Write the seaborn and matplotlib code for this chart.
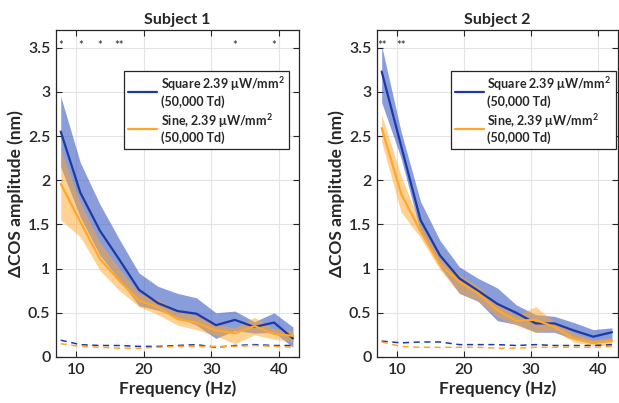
import numpy as np
import pandas as pd
import seaborn as sns
import matplotlib.pyplot as plt

# frequencies (Hz)
freq = [7.7, 10.6, 13.5, 16.4, 19.3, 22.1, 25.0, 27.8, 30.7, 33.5, 36.4, 39.3, 42.1]

# Subject 1
s1_sq = [2.55, 1.86, 1.43, 1.10, 0.76, 0.61, 0.52, 0.49, 0.36, 0.42, 0.34, 0.39, 0.21]
s1_sq_hi = [2.95, 2.20, 1.73, 1.33, 0.95, 0.80, 0.72, 0.67, 0.50, 0.52, 0.40, 0.50, 0.34]
s1_sq_lo = [2.15, 1.58, 1.15, 0.87, 0.58, 0.53, 0.45, 0.36, 0.21, 0.30, 0.27, 0.28, 0.11]
s1_si = [1.96, 1.53, 1.11, 0.86, 0.64, 0.56, 0.43, 0.39, 0.30, 0.27, 0.35, 0.26, 0.24]
s1_si_hi = [2.35, 1.75, 1.30, 1.00, 0.72, 0.65, 0.52, 0.47, 0.37, 0.33, 0.45, 0.32, 0.30]
s1_si_lo = [1.55, 1.36, 0.98, 0.75, 0.57, 0.48, 0.36, 0.31, 0.24, 0.15, 0.25, 0.20, 0.18]
s1_sq_noise = [0.19, 0.14, 0.13, 0.13, 0.12, 0.12, 0.13, 0.14, 0.11, 0.13, 0.14, 0.13, 0.13]
s1_si_noise = [0.15, 0.12, 0.11, 0.10, 0.10, 0.11, 0.12, 0.12, 0.12, 0.12, 0.13, 0.12, 0.11]
s1_stars = [(7.7, '*'), (10.6, '*'), (13.5, '*'), (16.4, '**'), (33.5, '*'), (39.3, '*')]

# Subject 2
s2_sq = [3.23, 2.39, 1.55, 1.15, 0.89, 0.75, 0.60, 0.50, 0.38, 0.38, 0.30, 0.23, 0.28]
s2_sq_hi = [3.52, 2.55, 1.76, 1.32, 1.02, 0.89, 0.78, 0.59, 0.48, 0.46, 0.39, 0.31, 0.33]
s2_sq_lo = [2.88, 2.25, 1.41, 1.02, 0.72, 0.63, 0.41, 0.37, 0.28, 0.28, 0.20, 0.15, 0.20]
s2_si = [2.59, 1.85, 1.42, 1.05, 0.85, 0.72, 0.53, 0.41, 0.42, 0.34, 0.21, 0.16, 0.18]
s2_si_hi = [2.74, 2.05, 1.50, 1.12, 0.93, 0.80, 0.60, 0.47, 0.57, 0.40, 0.27, 0.20, 0.22]
s2_si_lo = [2.43, 1.64, 1.35, 0.99, 0.72, 0.63, 0.45, 0.36, 0.28, 0.30, 0.17, 0.13, 0.13]
s2_sq_noise = [0.18, 0.16, 0.17, 0.17, 0.14, 0.14, 0.14, 0.13, 0.14, 0.13, 0.13, 0.13, 0.14]
s2_si_noise = [0.17, 0.12, 0.11, 0.11, 0.11, 0.11, 0.10, 0.10, 0.11, 0.11, 0.11, 0.11, 0.12]
s2_stars = [(7.7, '**'), (10.6, '**')]

labels = ['Square 2.39 μW/mm$^2$\n(50,000 Td)', 'Sine, 2.39 μW/mm$^2$\n(50,000 Td)']
yticks = [0, 0.5, 1, 1.5, 2, 2.5, 3, 3.5]
yticklabels = ['0', '0.5', '1', '1.5', '2', '2.5', '3', '3.5']

blue = '#1c3aa6'
orange = '#ffa62b'
ink = '#262626'

sns.set_theme(style='white')
plt.rcParams['font.family'] = ['Lato', 'DejaVu Sans']
plt.rcParams['mathtext.fontset'] = 'custom'
plt.rcParams['mathtext.rm'] = 'Lato:bold'
plt.rcParams['mathtext.bf'] = 'Lato:bold'

fig = plt.figure(figsize=(6.19, 4.03), dpi=100)
ax1 = fig.add_axes([56/619, 46/403, 243/619, 327/403])
ax2 = fig.add_axes([377/619, 46/403, 241/619, 327/403])

subjects = [
    (ax1, 'Subject 1', s1_sq, s1_sq_lo, s1_sq_hi, s1_si, s1_si_lo, s1_si_hi, s1_sq_noise, s1_si_noise, s1_stars, 0.28),
    (ax2, 'Subject 2', s2_sq, s2_sq_lo, s2_sq_hi, s2_si, s2_si_lo, s2_si_hi, s2_sq_noise, s2_si_noise, s2_stars, 0.305),
]

for ax, title, sq, sq_lo, sq_hi, si, si_lo, si_hi, sqn, sin_, stars, legx in subjects:
    df = pd.DataFrame({
        'freq': freq * 2,
        'amp': sq + si,
        'cond': [labels[0]] * len(freq) + [labels[1]] * len(freq),
    })
    noise = pd.DataFrame({
        'freq': freq * 2,
        'amp': sqn + sin_,
        'cond': [labels[0]] * len(freq) + [labels[1]] * len(freq),
    })
    ax.grid(True, color='#e3e3e3', lw=0.8, zorder=0)
    ax.fill_between(freq, sq_lo, sq_hi, color='#3a5cc4', alpha=0.6, lw=0, zorder=1)
    ax.fill_between(freq, si_lo, si_hi, color='#ffa62b', alpha=0.5, lw=0, zorder=2)
    sns.lineplot(data=df, x='freq', y='amp', hue='cond', palette=[blue, orange],
                 lw=1.6, ax=ax, legend=False, zorder=3)
    sns.lineplot(data=noise, x='freq', y='amp', hue='cond', palette=[blue, orange],
                 lw=1.1, ax=ax, legend=False, zorder=3)
    data_lines = [ln for ln in ax.lines if len(ln.get_xdata()) == len(freq)]
    for ln in data_lines[2:]:
        ln.set_linestyle((0, (4, 3)))
    for f, s in stars:
        ax.text(f, 3.52, s, ha='center', va='center', fontsize=8, color='#222222', zorder=6)

    ax.set_xlim(7, 43)
    ax.set_ylim(0, 3.7)
    ax.set_xticks([10, 20, 30, 40])
    ax.set_xticklabels(['10', '20', '30', '40'], fontsize=11.5, fontweight='semibold', color=ink)
    ax.set_yticks(yticks)
    ax.set_yticklabels(yticklabels, fontsize=11.5, fontweight='semibold', color=ink)
    ax.tick_params(direction='in', length=4, width=0.8, top=True, right=True,
                   bottom=True, left=True, color=ink, pad=4)
    for sp in ax.spines.values():
        sp.set_color(ink)
        sp.set_linewidth(0.9)
    ax.set_xlabel('Frequency (Hz)', fontsize=12.5, fontweight='bold', color=ink, labelpad=3)
    ax.set_ylabel('ΔCOS amplitude (nm)', fontsize=12.5, fontweight='bold', color=ink, labelpad=3)
    ax.set_title(title, fontsize=11.5, fontweight='bold', color=ink, pad=4)

    leg = ax.legend(data_lines[:2], labels, loc='upper left', bbox_to_anchor=(legx, 0.875),
                    frameon=True, fancybox=False, edgecolor=ink, framealpha=1,
                    prop={'family': 'Lato', 'weight': 'bold', 'size': 9},
                    handlelength=2.3, borderpad=0.35, labelspacing=0.3,
                    handletextpad=0.3, borderaxespad=0)
    leg.get_frame().set_linewidth(0.9)
    for t in leg.get_texts():
        t.set_color(ink)

fig.savefig('out.png', dpi=100)
